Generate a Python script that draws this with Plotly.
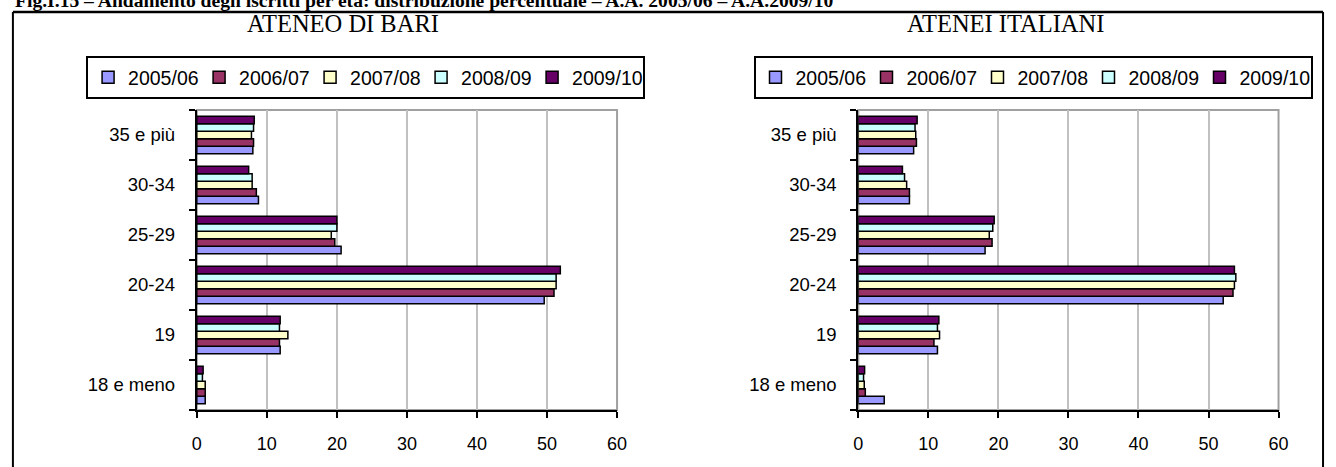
import plotly.graph_objects as go

# Age classes (bottom to top) and academic years
categories = ["18 e meno", "19", "20-24", "25-29", "30-34", "35 e più"]
years = ["2005/06", "2006/07", "2007/08", "2008/09", "2009/10"]
colors = ["#9999FF", "#993366", "#FFFFCC", "#CCFFFF", "#660066"]

# Percent distribution of enrolled students, Università di Bari
bari_2005_06 = [1.2, 11.9, 49.6, 20.6, 8.8, 8.0]
bari_2006_07 = [1.2, 11.8, 51.0, 19.7, 8.5, 8.1]
bari_2007_08 = [1.2, 13.0, 51.3, 19.2, 7.9, 7.8]
bari_2008_09 = [0.8, 11.8, 51.3, 20.0, 7.9, 8.1]
bari_2009_10 = [0.9, 11.9, 51.9, 20.0, 7.4, 8.2]

# Percent distribution of enrolled students, all Italian universities
ita_2005_06 = [3.7, 11.3, 52.1, 18.1, 7.3, 7.9]
ita_2006_07 = [1.0, 10.8, 53.5, 19.1, 7.3, 8.3]
ita_2007_08 = [0.85, 11.6, 53.7, 18.7, 6.9, 8.2]
ita_2008_09 = [0.75, 11.3, 53.9, 19.2, 6.6, 8.1]
ita_2009_10 = [0.9, 11.5, 53.7, 19.4, 6.3, 8.4]

bari = [bari_2005_06, bari_2006_07, bari_2007_08, bari_2008_09, bari_2009_10]
ita = [ita_2005_06, ita_2006_07, ita_2007_08, ita_2008_09, ita_2009_10]

W, H = 1336, 467
SANS = "Liberation Sans, Arial, sans-serif"
SERIF = "Liberation Serif, Times New Roman, serif"


def px_x(v):
    return v / W


def px_y(v):
    return 1 - v / H


fig = go.Figure()

for year, color, vals in zip(years, colors, bari):
    fig.add_trace(go.Bar(
        x=vals, y=categories, orientation="h", name=year,
        marker=dict(color=color, line=dict(color="black", width=1.5)),
        xaxis="x", yaxis="y", legend="legend",
    ))

for year, color, vals in zip(years, colors, ita):
    fig.add_trace(go.Bar(
        x=vals, y=categories, orientation="h", name=year,
        marker=dict(color=color, line=dict(color="black", width=1.5)),
        xaxis="x2", yaxis="y2", legend="legend2",
    ))

xaxis_style = dict(
    range=[0, 60], dtick=10, tick0=0,
    showgrid=True, gridcolor="#C0C0C0", gridwidth=2,
    showline=True, linecolor="black", linewidth=2,
    ticks="outside", ticklen=6, tickwidth=1.5, tickcolor="black",
    tickfont=dict(family=SANS, size=18, color="black"),
    ticklabelstandoff=10, zeroline=False, fixedrange=True,
)
yaxis_style = dict(
    type="category", categoryorder="array", categoryarray=categories,
    showgrid=False, showline=True, linecolor="black", linewidth=2,
    ticks="outside", ticklen=6, tickwidth=1.5, tickcolor="black",
    tickson="boundaries",
    tickfont=dict(family=SANS, size=18.5, color="black"),
    ticklabelstandoff=16, fixedrange=True,
)

y_dom = [px_y(410), px_y(110)]

legend_style = dict(
    orientation="h", xanchor="left", yanchor="top",
    bgcolor="white", bordercolor="black", borderwidth=2,
    font=dict(family=SANS, size=19.5, color="black"),
    entrywidth=66, entrywidthmode="pixels",
    itemclick=False, itemdoubleclick=False,
)

# Outer frame of the figure box
shapes = [
    dict(type="line", xref="paper", yref="paper", x0=px_x(8), x1=px_x(1333),
         y0=px_y(12), y1=px_y(12), line=dict(color="black", width=2.5)),
    dict(type="line", xref="paper", yref="paper", x0=px_x(8), x1=px_x(8),
         y0=px_y(12), y1=-0.05, line=dict(color="black", width=2)),
    dict(type="line", xref="paper", yref="paper", x0=px_x(1333), x1=px_x(1333),
         y0=px_y(12), y1=-0.05, line=dict(color="black", width=2)),
]
# Grey plot-area border (top and right edges)
for xr, yr in (("x domain", "y domain"), ("x2 domain", "y2 domain")):
    shapes.append(dict(type="rect", xref=xr, yref=yr, x0=0, x1=1, y0=0, y1=1,
                       line=dict(color="#A0A0A0", width=2), layer="below"))

annotations = [
    dict(text="<b>Fig.I.15 – Andamento degli iscritti per età: distribuzione percentuale – A.A. 2005/06 – A.A.2009/10</b>",
         xref="paper", yref="paper", x=px_x(8), y=px_y(13), xanchor="left", yanchor="bottom",
         showarrow=False, font=dict(family=SERIF, size=19.6, color="black")),
    dict(text="ATENEO DI BARI", xref="paper", yref="paper", x=px_x(342), y=px_y(23),
         xanchor="center", yanchor="middle", showarrow=False,
         font=dict(family=SERIF, size=24.5, color="black")),
    dict(text="ATENEI ITALIANI", xref="paper", yref="paper", x=px_x(1012), y=px_y(23),
         xanchor="center", yanchor="middle", showarrow=False,
         font=dict(family=SERIF, size=24.5, color="black")),
]

fig.update_layout(
    width=W, height=H,
    margin=dict(l=0, r=0, t=0, b=0),
    paper_bgcolor="white", plot_bgcolor="white",
    barmode="group", bargap=0.25, bargroupgap=0,
    xaxis=dict(domain=[px_x(194), px_x(619)], anchor="y", **xaxis_style),
    yaxis=dict(domain=y_dom, anchor="x", **yaxis_style),
    xaxis2=dict(domain=[px_x(863), px_x(1288)], anchor="y2", **xaxis_style),
    yaxis2=dict(domain=y_dom, anchor="x2", **yaxis_style),
    legend=dict(x=px_x(82), y=px_y(56), **legend_style),
    legend2=dict(x=px_x(757), y=px_y(56), **legend_style),
    shapes=shapes,
    annotations=annotations,
    showlegend=True,
)

fig.write_html("out.html")
